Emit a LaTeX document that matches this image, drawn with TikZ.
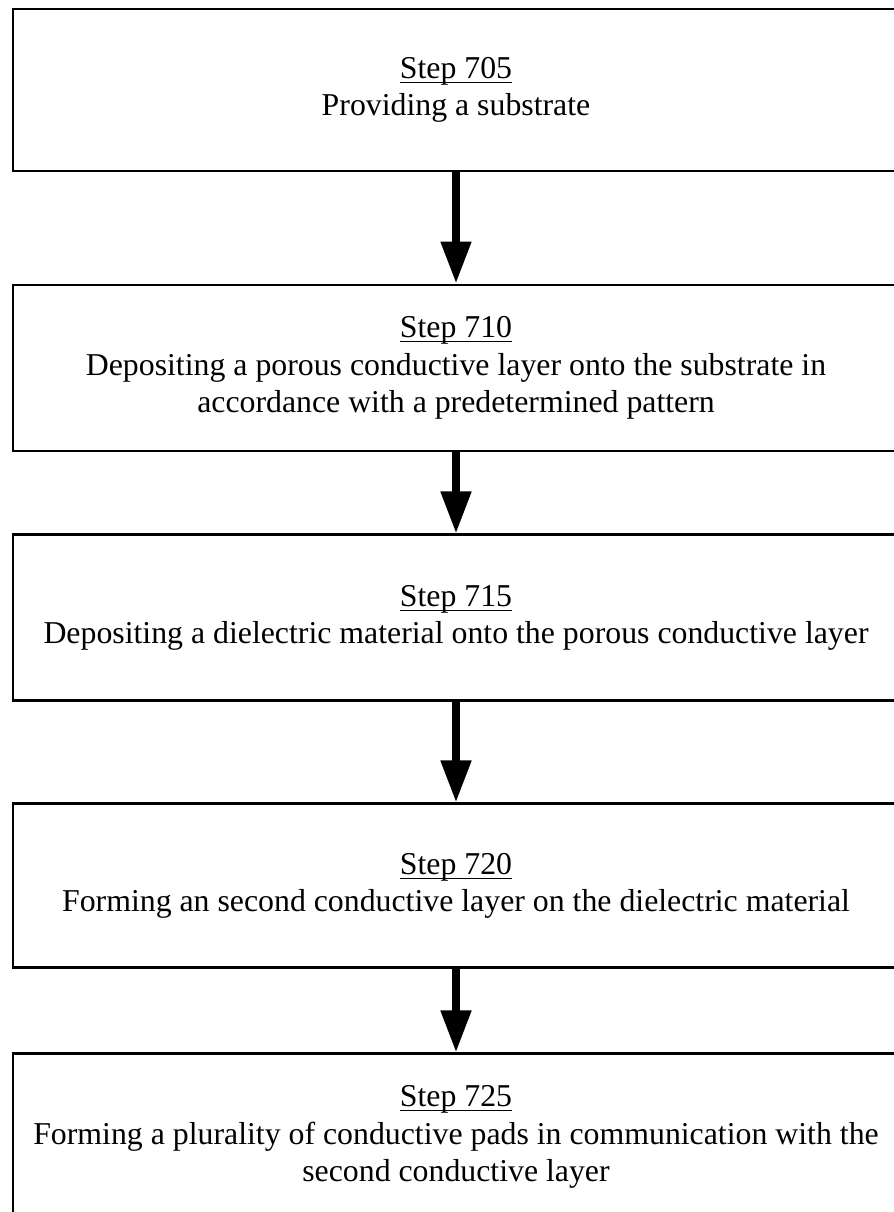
\documentclass[tikz,border=0pt]{standalone}
\usepackage{fontspec}
\setmainfont{Liberation Serif}
\usetikzlibrary{positioning,arrows.meta}
\newcommand{\steplabel}[1]{\setbox0\hbox{#1}\rlap{\rule[-2.6pt]{\wd0}{0.7pt}}\box0}

\begin{document}
\begin{tikzpicture}[
    >={Triangle[width=0.58cm,length=0.84cm]},
    stepbox/.style={rectangle, draw=black, line width=1.7pt, fill=white, align=center, minimum width=17.72cm, minimum height=3.32cm},
    flow/.style={->, line width=4.5pt},
    font=\fontsize{18.1}{21.4}\selectfont
  ]
    \useasboundingbox (0,0) rectangle (17.86,-24.24);

    \node[stepbox, minimum height=3.24cm] (s705) at (9.12,-1.80) {\steplabel{Step 705}\\Providing a substrate};
    \node[stepbox, below=2.22cm of s705] (s710) {\steplabel{Step 710}\\Depositing a porous conductive layer onto the substrate in\\accordance with a predetermined pattern};
    \node[stepbox, below=1.62cm of s710] (s715) {\steplabel{Step 715}\\Depositing a dielectric material onto the porous conductive layer};
    \node[stepbox, minimum height=3.28cm, below=2.00cm of s715] (s720) {\steplabel{Step 720}\\Forming an second conductive layer on the dielectric material};
    \node[stepbox, below=1.66cm of s720] (s725) {\steplabel{Step 725}\\Forming a plurality of conductive pads in communication with the\\second conductive layer};

    \draw[flow] (s705) -- (s710);
    \draw[flow] (s710) -- (s715);
    \draw[flow] (s715) -- (s720);
    \draw[flow] (s720) -- (s725);
  \end{tikzpicture}
\end{document}
